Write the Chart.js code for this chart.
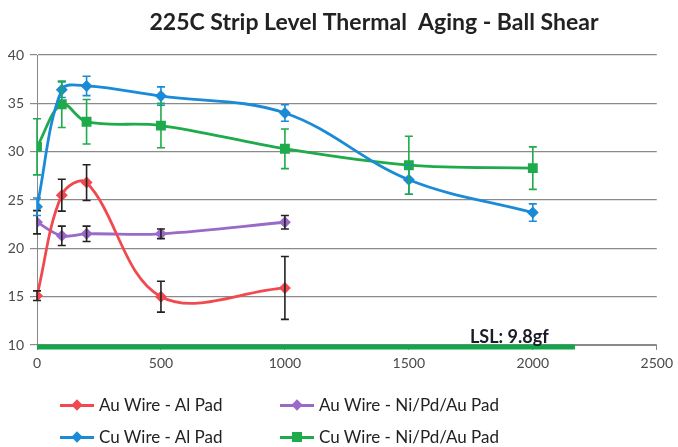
<!DOCTYPE html>
<html>
<head>
<meta charset="utf-8">
<script src="https://cdn.jsdelivr.net/npm/chart.js@4.4.1/dist/chart.umd.min.js"></script>
<style>
  html,body{margin:0;padding:0;background:#fff;}
  #wrap{position:relative;width:678px;height:447px;}
  #legend{position:absolute;left:0;top:394px;width:678px;font-family:Lato,"Open Sans",sans-serif;font-size:17px;color:#222;}
  .item{position:absolute;display:flex;align-items:center;white-space:nowrap;}
  .icon{position:relative;width:34px;height:14px;margin-right:5px;}
  .icon .ln{position:absolute;left:0;right:0;top:6px;height:3px;}
  .icon .mk{position:absolute;left:13px;top:3px;width:8px;height:8px;transform:rotate(45deg);}
  .icon .mk.sq{transform:none;left:12px;top:2px;width:10px;height:10px;}
</style>
</head>
<body>
<div id="wrap">
  <canvas id="agingChart" width="678" height="447"></canvas>
  <div id="legend"></div>
</div>
<script>
// aging time (hours)
const hoursAu=[0,100,200,500,1000];
const hoursCu=[0,100,200,500,1000,1500,2000];

// ball shear (gf)
const auAl=[15.1,25.5,26.8,15.0,15.9];
const auAlErr=[0.5,1.65,1.85,1.6,3.25];

const auNi=[22.7,21.3,21.5,21.5,22.7];
const auNiErr=[1.2,1.0,0.8,0.5,0.7];

const cuAl=[24.3,36.4,36.8,35.75,34.0,27.1,23.7];
const cuAlErr=[0.9,0.8,1.0,0.95,0.85,1.5,0.9];

const cuNi=[30.5,34.9,33.1,32.7,30.3,28.6,28.3];
const cuNiErr=[2.9,2.4,2.3,2.3,2.05,3.0,2.2];

const lslValue=9.8;
const lslRange=[0,2170];

const xTicks=[0,500,1000,1500,2000,2500];
const yTicks=[10,15,20,25,30,35,40];

const titleText="225C Strip Level Thermal  Aging - Ball Shear";
const seriesNames=["Au Wire - Al Pad","Au Wire - Ni/Pd/Au Pad","Cu Wire - Al Pad","Cu Wire - Ni/Pd/Au Pad"];

function pts(xs,ys){
    return xs.map((x,i)=>({x:x,y:ys[i]}));
}

const colRed="#f04a4f";
const colPurple="#9a6ac9";
const colBlue="#1a8bd6";
const colGreen="#1fab4b";
const fontFam="Lato, 'Open Sans', sans-serif";

const errorBars={
    id:"errorBars",
    afterDatasetsDraw(chart){
        const ctx=chart.ctx;
        const xs=chart.scales.x, ys=chart.scales.y;
        chart.data.datasets.forEach((ds)=>{
            if(!ds.errors) return;
            ctx.save();
            ctx.strokeStyle=ds.errorColor;
            ctx.lineWidth=1.6;
            ds.data.forEach((p,i)=>{
                const e=ds.errors[i];
                const px=xs.getPixelForValue(p.x);
                const top=ys.getPixelForValue(p.y+e);
                const bot=ys.getPixelForValue(p.y-e);
                ctx.beginPath();
                ctx.moveTo(px,top);ctx.lineTo(px,bot);
                ctx.moveTo(px-4,top);ctx.lineTo(px+4,top);
                ctx.moveTo(px-4,bot);ctx.lineTo(px+4,bot);
                ctx.stroke();
            });
            ctx.restore();
        });
    }
};

const extraText={
    id:"extraText",
    afterDraw(chart){
        const ctx=chart.ctx;
        const xs=chart.scales.x, ys=chart.scales.y;
        ctx.save();
        // title, slightly right of centre like the original
        ctx.font="bold 23px "+fontFam;
        ctx.fillStyle="#222";
        ctx.textAlign="center";
        ctx.textBaseline="middle";
        ctx.fillText(titleText,374,23);
        // LSL label sitting on the limit line
        ctx.font="bold 18px "+fontFam;
        ctx.fillStyle="#1a1a28";
        ctx.textBaseline="alphabetic";
        ctx.fillText("LSL: "+lslValue+"gf",xs.getPixelForValue(1905),ys.getPixelForValue(lslValue)-4);
        ctx.restore();
    }
};

function makeSeries(label,data,errs,color,errColor,style,radius){
    return {
        label:label,
        data:data,
        errors:errs,
        errorColor:errColor,
        borderColor:color,
        backgroundColor:color,
        borderWidth:2.8,
        pointStyle:style,
        pointRadius:radius,
        pointHoverRadius:radius,
        tension:0.36,
        fill:false
    };
}

const canvas=document.getElementById("agingChart");

const chart=new Chart(canvas,{
    type:"line",
    data:{
        datasets:[
            {
                label:"LSL",
                data:[{x:lslRange[0],y:lslValue},{x:lslRange[1],y:lslValue}],
                borderColor:"#12a54a",
                borderWidth:5,
                pointRadius:0,
                tension:0,
                clip:false,
                order:5
            },
            makeSeries(seriesNames[0],pts(hoursAu,auAl),auAlErr,colRed,"#222","rectRot",4),
            makeSeries(seriesNames[1],pts(hoursAu,auNi),auNiErr,colPurple,"#222","rectRot",4),
            makeSeries(seriesNames[2],pts(hoursCu,cuAl),cuAlErr,colBlue,colBlue,"rectRot",4),
            makeSeries(seriesNames[3],pts(hoursCu,cuNi),cuNiErr,colGreen,colGreen,"rect",5)
        ]
    },
    options:{
        responsive:false,
        animation:false,
        layout:{
            padding:{left:0,right:20,top:55,bottom:72}
        },
        plugins:{
            legend:{display:false},
            tooltip:{enabled:false},
            title:{display:false}
        },
        scales:{
            x:{
                type:"linear",
                min:xTicks[0],
                max:xTicks[xTicks.length-1],
                afterBuildTicks(scale){
                    scale.ticks=xTicks.map(v=>({value:v}));
                },
                afterFit(scale){
                    scale.height=30;
                },
                grid:{
                    display:true,
                    drawOnChartArea:false,
                    drawTicks:true,
                    tickLength:5,
                    color:"#888"
                },
                border:{color:"#888",width:1},
                ticks:{
                    color:"#4a4a4a",
                    padding:5,
                    maxRotation:0,
                    callback:(v)=>String(v),
                    font:{family:fontFam,size:14}
                }
            },
            y:{
                min:yTicks[0],
                max:yTicks[yTicks.length-1],
                afterBuildTicks(scale){
                    scale.ticks=yTicks.map(v=>({value:v}));
                },
                afterFit(scale){
                    scale.width=37;
                },
                grid:{
                    color:"#8a8a8a",
                    lineWidth:1.2,
                    tickLength:7
                },
                border:{color:"#888",width:1},
                ticks:{
                    color:"#4a4a4a",
                    padding:6,
                    callback:(v)=>String(v),
                    font:{family:fontFam,size:14}
                }
            }
        }
    },
    plugins:[errorBars,extraText]
});

// legend below the plot, two columns like the original
const legendPos=[[60,0],[280,0],[60,32],[280,32]];
const legendEl=document.getElementById("legend");
chart.data.datasets.slice(1).forEach((ds,i)=>{
    const item=document.createElement("div");
    item.className="item";
    item.style.left=legendPos[i][0]+"px";
    item.style.top=legendPos[i][1]+"px";
    const sq=ds.pointStyle==="rect";
    item.innerHTML='<span class="icon"><span class="ln" style="background:'+ds.borderColor+'"></span>'+
        '<span class="mk'+(sq?" sq":"")+'" style="background:'+ds.borderColor+'"></span></span>'+
        '<span>'+ds.label+'</span>';
    legendEl.appendChild(item);
});
</script>
</body>
</html>
